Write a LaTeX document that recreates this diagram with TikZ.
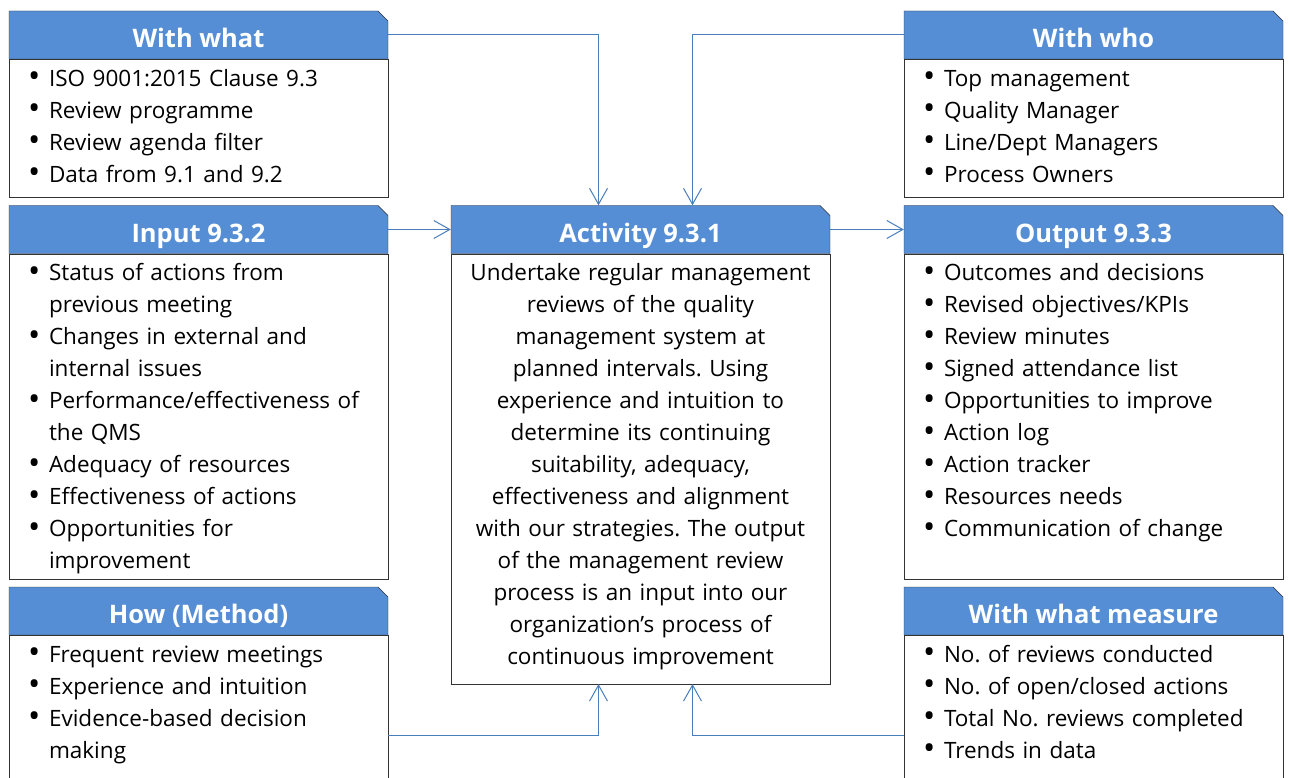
\documentclass[tikz,border=0pt]{standalone}
\usepackage{fontspec}
\usepackage{graphicx}
\setmainfont{Open Sans}
\usetikzlibrary{positioning,shapes.misc,arrows.meta}

\definecolor{headblue}{RGB}{85,142,213}
\definecolor{linkblue}{RGB}{74,126,187}

% one bullet line, later lines hang under the text
\newcommand{\bl}[1]{\hangindent=21pt\hangafter=1\noindent
    \makebox[21pt][l]{\raisebox{-1.5pt}{\scalebox{1.45}{\textbullet}}}#1\par}

\tikzset{
    headbox/.style={chamfered rectangle, chamfered rectangle corners=north east,
        chamfered rectangle xsep=5.5pt, chamfered rectangle ysep=4.5pt,
        draw=black!80, fill=headblue, text=white, inner sep=0pt,
        minimum width=379pt, minimum height=48pt, text height=25pt, text depth=0pt,
        font=\fontsize{25.5}{28}\selectfont\bfseries},
    listbox/.style={draw=black!80, rectangle, inner xsep=19pt, inner ysep=0pt,
        text width=341pt, align=left, text height=27pt,
        font=\fontsize{22.5}{32}\selectfont\frenchspacing},
    link/.style={draw=linkblue, line width=1pt, -{Straight Barb[length=16pt,width=18pt]}}
}

\begin{document}
\begin{tikzpicture}[x=1pt,y=-1pt]
    \useasboundingbox (0,0) rectangle (1290,778);
    \clip (0,0) rectangle (1290,778);

    % left column
    \node[headbox] (whathead) at (198.5,35) {With what};
    \node[listbox, below=0pt of whathead, text depth=111pt] (whatbody)
        {\bl{ISO 9001:2015 Clause 9.3}\bl{Review programme}\bl{Review agenda filter}\bl{Data from 9.1 and 9.2}};

    \node[headbox] (inhead) at (198.5,229.5) {Input 9.3.2};
    \node[listbox, below=0pt of inhead, text depth=298pt] (inbody)
        {\bl{Status of actions from\newline previous meeting}\bl{Changes in external and\newline internal issues}%
         \bl{Performance/effectiveness of\newline the QMS}\bl{Adequacy of resources}\bl{Effectiveness of actions}%
         \bl{Opportunities for\newline improvement}};

    \node[headbox] (howhead) at (198.5,611) {How (Method)};
    \node[listbox, below=0pt of howhead, text depth=143pt] (howbody)
        {\bl{Frequent review meetings}\bl{Experience and intuition}\bl{Evidence-based decision\newline making}};

    % middle
    \node[headbox] (acthead) at (640.5,229.5) {Activity 9.3.1};
    \node[listbox, below=0pt of acthead, text depth=403pt, align=center,
        inner xsep=4pt, text width=371pt] (actbody)
        {Undertake regular management\\reviews of the quality\\management system at\\planned intervals. Using\\
         experience and intuition to\\determine its continuing\\suitability, adequacy,\\effectiveness and alignment\\
         with our strategies. The output\\of the management review\\process is an input into our\\
         organization’s process of\\continuous improvement};

    % right column
    \node[headbox] (whohead) at (1093.5,35) {With who};
    \node[listbox, below=0pt of whohead, text depth=111pt] (whobody)
        {\bl{Top management}\bl{Quality Manager}\bl{Line/Dept Managers}\bl{Process Owners}};

    \node[headbox] (outhead) at (1093.5,229.5) {Output 9.3.3};
    \node[listbox, below=0pt of outhead, text depth=298pt] (outbody)
        {\bl{Outcomes and decisions}\bl{Revised objectives/KPIs}\bl{Review minutes}\bl{Signed attendance list}%
         \bl{Opportunities to improve}\bl{Action log}\bl{Action tracker}\bl{Resources needs}\bl{Communication of change}};

    \node[headbox] (meashead) at (1093.5,611) {With what measure};
    \node[listbox, below=0pt of meashead, text depth=143pt] (measbody)
        {\bl{No. of reviews conducted}\bl{No. of open/closed actions}\bl{Total No. reviews completed}\bl{Trends in data}};

    % links into and out of the activity
    \draw[link] (whathead.east) -| ([xshift=-42pt]acthead.north);
    \draw[link] (whohead.west) -| ([xshift=52pt]acthead.north);
    \draw[link] (inhead.east) -- (acthead.west);
    \draw[link] (acthead.east) -- (outhead.west);
    \draw[link] ([yshift=-100pt]howbody.north east) -| ([xshift=-42pt]actbody.south);
    \draw[link] ([yshift=-100pt]measbody.north west) -| ([xshift=52pt]actbody.south);
\end{tikzpicture}
\end{document}
